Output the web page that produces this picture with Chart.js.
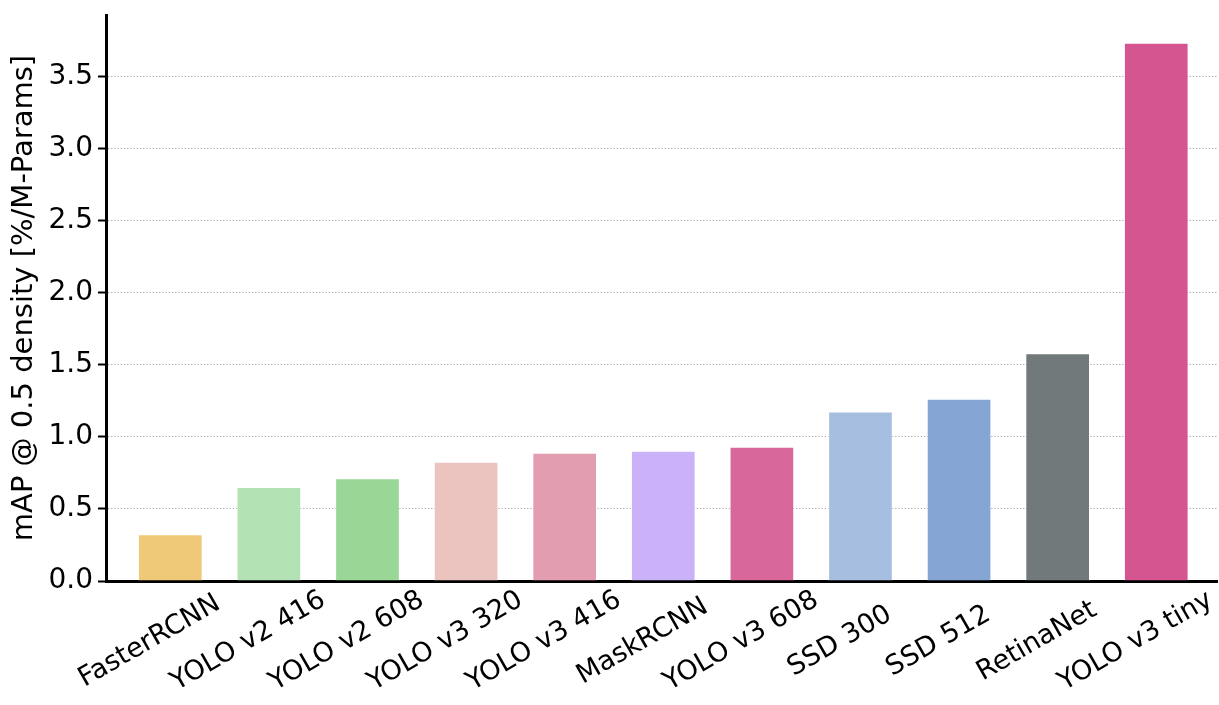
<!DOCTYPE html>
<html>
<head>
<meta charset="utf-8">
<script src="https://cdn.jsdelivr.net/npm/chart.js@4.4.1/dist/chart.umd.min.js"></script>
<style>
  html, body { margin: 0; padding: 0; background: #ffffff; }
  #wrap { width: 1219px; height: 705px; position: relative; }
</style>
</head>
<body>
<div id="wrap"><canvas id="c" width="1219" height="705"></canvas></div>
<script>
// ---- data ----
const categories = ['FasterRCNN', 'YOLO v2 416', 'YOLO v2 608', 'YOLO v3 320', 'YOLO v3 416',
  'MaskRCNN', 'YOLO v3 608', 'SSD 300', 'SSD 512', 'RetinaNet', 'YOLO v3 tiny'];
const values = [0.324, 0.653, 0.714, 0.828, 0.890, 0.904, 0.932, 1.177, 1.265, 1.581, 3.737];
const barColors = ['#efc977', '#b3e2b4', '#9ad696', '#ecc4bf', '#e29db1', '#cbb2f8',
  '#d8679c', '#a6bfe1', '#85a6d4', '#72797b', '#d55590'];
const yTicks = [0, 0.5, 1.0, 1.5, 2.0, 2.5, 3.0, 3.5];
const yTitle = 'mAP @ 0.5 density [%/M-Params]';

const FONT = '"DejaVu Sans", "Liberation Sans", sans-serif';

const rotatedLabels = {
  id: 'rotatedLabels',
  afterDraw(chart) {
    const ctx = chart.ctx;
    const xs = chart.scales.x;
    const base = chart.chartArea.bottom;
    const fs = 27;
    ctx.save();
    ctx.font = fs + 'px ' + FONT;
    ctx.fillStyle = '#000000';
    ctx.textAlign = 'center';
    ctx.textBaseline = 'alphabetic';
    const ang = -30 * Math.PI / 180;
    categories.forEach((lab, i) => {
      const px = xs.getPixelForValue(i);
      ctx.save();
      ctx.translate(px - 22, base + 58);
      ctx.rotate(ang);
      ctx.fillText(lab, 0, 0.36 * fs);
      ctx.restore();
    });
    ctx.restore();
  }
};

new Chart(document.getElementById('c'), {
  type: 'bar',
  data: {
    datasets: [{
      data: values.map((v, i) => ({ x: i, y: v })),
      backgroundColor: barColors,
      borderColor: 'rgba(255,255,255,0.55)',
      borderWidth: 1,
      barPercentage: 0.656,
      categoryPercentage: 1.0
    }]
  },
  options: {
    responsive: false,
    animation: false,
    devicePixelRatio: 1,
    layout: { padding: { top: 15, right: 2, bottom: 124, left: 0 } },
    plugins: { legend: { display: false }, tooltip: { enabled: false } },
    scales: {
      x: {
        type: 'linear',
        offset: false,
        min: -0.652,
        max: 10.616,
        afterBuildTicks(scale) { scale.ticks = categories.map((c, i) => ({ value: i })); },
        grid: { display: false, drawTicks: false },
        border: { display: true, color: '#000000', width: 3 },
        ticks: { display: false },
        afterFit(scale) { scale.height = 0; scale.paddingLeft = 0; scale.paddingRight = 0; }
      },
      y: {
        min: 0,
        max: 3.93,
        z: 1,
        afterBuildTicks(scale) { scale.ticks = yTicks.map(v => ({ value: v })); },
        afterFit(scale) { scale.width = 106; scale.paddingTop = 0; scale.paddingBottom = 0; },
        grid: {
          color: 'rgba(140,140,140,0.8)',
          lineWidth: 1,
          drawTicks: true,
          tickLength: 8,
          tickColor: '#000000',
          tickWidth: 2,
          tickBorderDash: []
        },
        border: { display: true, color: '#000000', width: 3, dash: [1.2, 2] },
        ticks: {
          color: '#000000',
          padding: 5,
          font: { family: FONT, size: 28 },
          callback: v => v.toFixed(1)
        },
        title: {
          display: true,
          text: yTitle,
          color: '#000000',
          font: { family: FONT, size: 29 },
          padding: { top: 7, bottom: 0 }
        }
      }
    }
  },
  plugins: [rotatedLabels]
});
</script>
</body>
</html>
